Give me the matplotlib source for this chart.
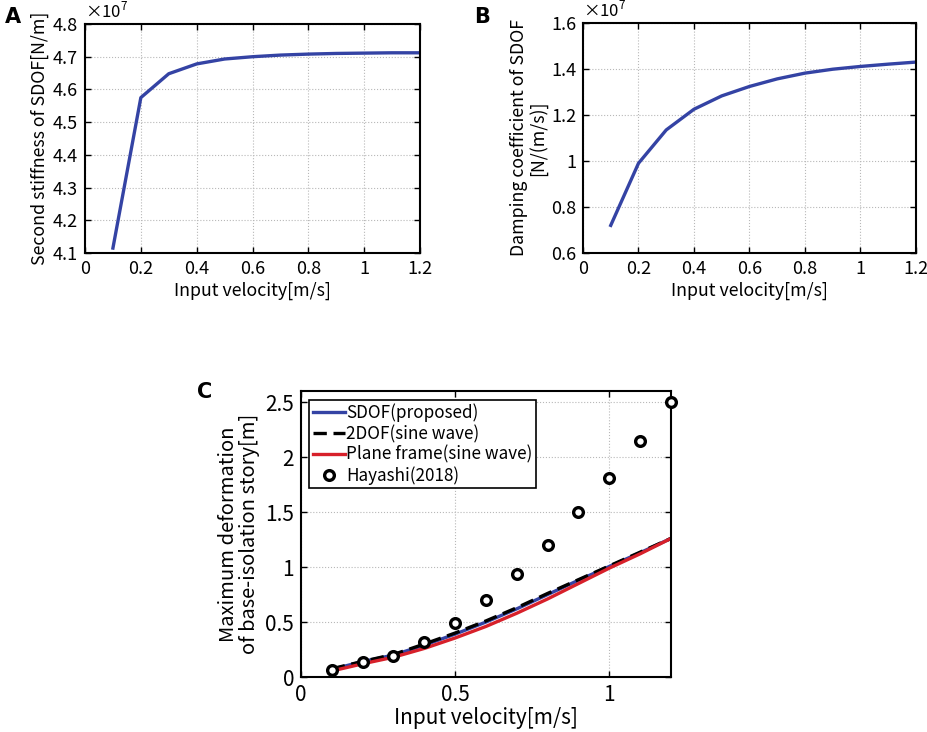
import matplotlib
matplotlib.use('Agg')
import matplotlib.pyplot as plt
from matplotlib.ticker import FuncFormatter
import numpy as np

plt.rcParams['font.family'] = ['Noto Sans CJK JP', 'DejaVu Sans']
plt.rcParams['mathtext.fontset'] = 'custom'
plt.rcParams['mathtext.rm'] = 'Noto Sans CJK JP'

# input velocity [m/s]
velocity = [0.1, 0.2, 0.3, 0.4, 0.5, 0.6, 0.7, 0.8, 0.9, 1.0, 1.1, 1.2]

# (A) second stiffness, x1e7 N/m
stiffness = [4.115, 4.575, 4.648, 4.678, 4.693, 4.700, 4.705, 4.708, 4.710, 4.711, 4.712, 4.712]
# (B) damping coefficient, x1e7 N/(m/s)
damping = [0.72, 0.99, 1.135, 1.225, 1.283, 1.324, 1.357, 1.382, 1.399, 1.411, 1.421, 1.430]

# (C) maximum deformation [m]
sdof = [0.070, 0.140, 0.200, 0.290, 0.390, 0.500, 0.620, 0.750, 0.880, 1.005, 1.130, 1.260]
twodof = [0.075, 0.142, 0.205, 0.300, 0.400, 0.510, 0.630, 0.760, 0.885, 1.010, 1.135, 1.260]
plane = [0.055, 0.120, 0.180, 0.260, 0.355, 0.460, 0.580, 0.710, 0.850, 0.990, 1.120, 1.260]
hayashi = [0.066, 0.140, 0.190, 0.320, 0.490, 0.700, 0.940, 1.200, 1.500, 1.810, 2.150, 2.500]

BLUE = '#3443a4'
RED = '#d7202a'

fmt = FuncFormatter(lambda v, p: '%g' % round(v, 6))


def style(ax, fs):
    ax.grid(True, linestyle=':', color='#b8b8b8', linewidth=0.8)
    ax.set_axisbelow(True)
    ax.tick_params(direction='in', top=True, right=True, length=4,
                   width=1.0, labelsize=fs, pad=5)
    for s in ax.spines.values():
        s.set_linewidth(1.5)
    ax.xaxis.set_major_formatter(fmt)
    ax.yaxis.set_major_formatter(fmt)


fig = plt.figure(figsize=(9.27, 7.32), dpi=100)

# panel A
axA = fig.add_axes([0.0917, 0.6544, 0.3614, 0.3128])
axA.plot(velocity, stiffness, color=BLUE, lw=2.4)
axA.set_xlim(0, 1.2)
axA.set_ylim(4.1, 4.8)
axA.set_xticks(np.arange(0, 1.21, 0.2))
axA.set_yticks(np.arange(4.1, 4.81, 0.1))
style(axA, 13)
axA.set_xlabel('Input velocity[m/s]', fontsize=12.8, labelpad=3)
axA.set_ylabel('Second stiffness of SDOF[N/m]', fontsize=12.8, labelpad=3)
axA.text(0.0, 1.01, r'$\times10^7$', transform=axA.transAxes, fontsize=12,
         va='bottom', ha='left')
fig.text(0.005, 0.99, 'A', fontsize=15, fontweight='bold', va='top',
         family='DejaVu Sans')

# panel B
axB = fig.add_axes([0.6289, 0.6544, 0.3592, 0.3142])
axB.plot(velocity, damping, color=BLUE, lw=2.4)
axB.set_xlim(0, 1.2)
axB.set_ylim(0.6, 1.6)
axB.set_xticks(np.arange(0, 1.21, 0.2))
axB.set_yticks(np.arange(0.6, 1.61, 0.2))
style(axB, 13)
axB.set_xlabel('Input velocity[m/s]', fontsize=12.8, labelpad=3)
axB.set_ylabel('Damping coefficient of SDOF\n[N/(m/s)]', fontsize=12.8,
               linespacing=1.0, labelpad=3)
axB.text(0.0, 1.01, r'$\times10^7$', transform=axB.transAxes, fontsize=12,
         va='bottom', ha='left')
fig.text(0.512, 0.99, 'B', fontsize=15, fontweight='bold', va='top',
         family='DejaVu Sans')

# panel C
axC = fig.add_axes([0.3247, 0.0751, 0.3991, 0.3907])
axC.plot(velocity, sdof, color=BLUE, lw=2.4, label='SDOF(proposed)')
axC.plot(velocity, twodof, color='black', lw=2.4, ls=(0, (4, 2)),
         label='2DOF(sine wave)')
axC.plot(velocity, plane, color=RED, lw=2.4, label='Plane frame(sine wave)')
axC.plot(velocity, hayashi, ls='none', marker='o', ms=7, mfc='white',
         mec='black', mew=2.4, label='Hayashi(2018)', clip_on=False, zorder=5)
axC.set_xlim(0, 1.2)
axC.set_ylim(0, 2.6)
axC.set_xticks([0, 0.5, 1])
axC.set_yticks(np.arange(0, 2.51, 0.5))
style(axC, 15)
axC.set_xlabel('Input velocity[m/s]', fontsize=15, labelpad=1)
axC.set_ylabel('Maximum deformation\nof base-isolation story[m]', fontsize=14.5,
               linespacing=1.0, labelpad=4)
leg = axC.legend(loc='upper left', bbox_to_anchor=(0.022, 0.968),
                 fontsize=12.3, frameon=True, fancybox=False, handlelength=1.9,
                 handletextpad=0.05, borderpad=0.2, labelspacing=0.15,
                 borderaxespad=0)
leg.get_frame().set_edgecolor('black')
leg.get_frame().set_linewidth(1.2)
leg.get_frame().set_alpha(1)
fig.text(0.213, 0.478, 'C', fontsize=15, fontweight='bold', va='top',
         family='DejaVu Sans')

plt.savefig('out.png', dpi=100)
